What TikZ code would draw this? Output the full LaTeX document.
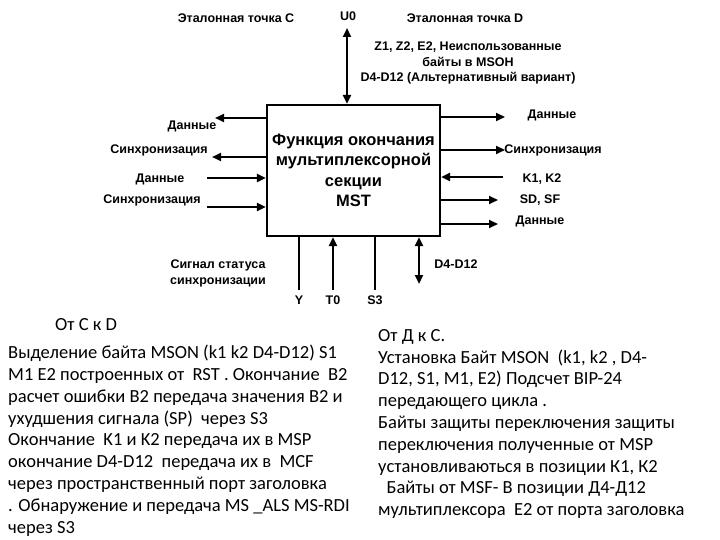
\documentclass[tikz,border=0pt]{standalone}
\usepackage{fontspec}
\setmainfont{Liberation Sans}
\newfontfamily\bodyfont{Carlito}
\usetikzlibrary{arrows.meta}
\begin{document}
\begin{tikzpicture}[x=1pt,y=-1pt,
  lbl/.style={font=\fontsize{12.5}{15}\selectfont\bfseries, inner sep=0pt},
  arr/.style={line width=2.2pt,-{Triangle[length=9pt,width=8pt]}},
  darr/.style={line width=2.2pt,{Triangle[length=9pt,width=8pt]}-{Triangle[length=9pt,width=8pt]}},
  ln/.style={line width=2.2pt},
  body/.style={font=\bodyfont\fontsize{18.5}{21.8}\selectfont, align=left, inner sep=0pt, anchor=north west}]
\useasboundingbox (0,0) rectangle (720,540);
\node[draw, line width=2.2pt, minimum width=173pt, minimum height=131pt, inner sep=0pt,
  align=center, font=\fontsize{16.5}{20.5}\selectfont\bfseries] (box) at (353.5,170.5)
  {Функция окончания\\мультиплексорной\\секции\\MST};
% top
\coordinate (u0) at (347,28);
\draw[darr] (box.north -| u0) -- (u0);
\node[lbl] (tU0) at (348,16) {U0};
\node[lbl] (tC) at (236,18) {Эталонная точка C};
\node[lbl] (tD) at (465,18) {Эталонная точка D};
\node[lbl, align=center, font=\fontsize{12.5}{15.5}\selectfont\bfseries] (tZ) at (468,63)
  {Z1, Z2, E2, Неиспользованные\\байты в MSOH\\D4-D12 (Альтернативный вариант)};
% left
\coordinate (l1) at (215,118); \coordinate (l2) at (212,157);
\coordinate (l3) at (207,178); \coordinate (l4) at (207,207);
\draw[arr] (box.west |- l1) -- (l1);
\draw[arr] (box.west |- l2) -- (l2);
\draw[arr] (l3) -- (box.west |- l3);
\draw[arr] (l4) -- (box.west |- l4);
\node[lbl] (a1) at (192,126) {Данные};
\node[lbl] (a2) at (159,150) {Синхронизация};
\node[lbl] (a3) at (160,179) {Данные};
\node[lbl] (a4) at (152,200) {Синхронизация};
% right
\coordinate (r1) at (505,117); \coordinate (r2) at (505,150);
\coordinate (r3) at (503,177); \coordinate (r4) at (498,200); \coordinate (r5) at (498,224);
\draw[arr] (box.east |- r1) -- (r1);
\draw[arr] (box.east |- r2) -- (r2);
\draw[arr] (r3) -- (box.east |- r3);
\draw[arr] (box.east |- r4) -- (r4);
\draw[arr] (box.east |- r5) -- (r5);
\node[lbl] (b1) at (552,115) {Данные};
\node[lbl] (b2) at (553,150) {Синхронизация};
\node[lbl] (b3) at (542,179) {K1, K2};
\node[lbl] (b4) at (540,200) {SD, SF};
\node[lbl] (b5) at (540,221) {Данные};
% bottom
\coordinate (y) at (299,290); \coordinate (t0) at (333,290);
\coordinate (s3) at (375,290); \coordinate (dd) at (419,284);
\draw[ln] (box.south -| y) -- (y);
\draw[arr] (t0) -- (box.south -| t0);
\draw[ln] (box.south -| s3) -- (s3);
\draw[darr] (box.south -| dd) -- (dd);
\node[lbl] (ty) at (299,300) {Y};
\node[lbl] (tt0) at (333,300) {T0};
\node[lbl] (ts3) at (375,300) {S3};
\node[lbl] (tdd) at (456,264) {D4-D12};
\node[lbl, align=center, font=\fontsize{12.5}{16}\selectfont\bfseries] (tsig) at (218,273)
  {Сигнал статуса\\синхронизации};
% text
\node[body] (h1) at (55,318) {От С к D};
\node[body] (p1) at (8,345) {Выделение байта MSON (k1 k2 D4-D12) S1\\
M1 E2 построенных от \ RST . Окончание \ B2\\
расчет ошибки B2 передача значения B2 и\\
ухудшения сигнала (SP) \ через S3\\
Окончание \ K1 и K2 передача их в MSP\\
окончание D4-D12 \ передача их в \ MCF\\
через пространственный порт заголовка\\
. Обнаружение и передача MS \_ALS MS-RDI\\
через S3};
\node[body] (p2) at (378,329) {От Д к С.\\
Установка Байт MSON \ (k1, k2 , D4-\\
D12, S1, M1, E2) Подсчет BIP-24\\
передающего цикла .\\
Байты защиты переключения защиты\\
переключения полученные от MSP\\
установливаються в позиции К1, К2\\
\ \ Байты от MSF- В позиции Д4-Д12\\
мультиплексора \ E2 от порта заголовка};
\end{tikzpicture}
\end{document}
